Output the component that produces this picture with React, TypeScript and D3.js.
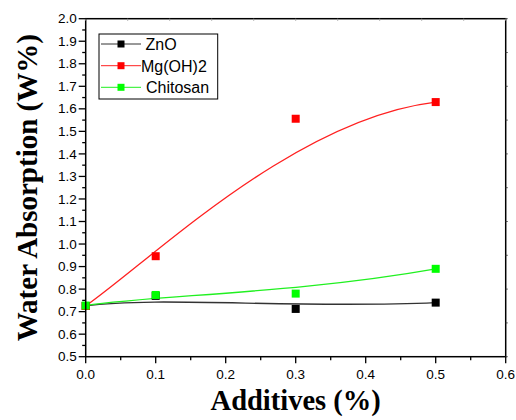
import React from "react";
import * as d3 from "d3";

// additive content (%)
const additives = [0, 0.1, 0.3, 0.5];
// water absorption (W%)
const znoValues = [0.725, 0.77, 0.712, 0.74];
const mgValues = [0.725, 0.946, 1.556, 1.63];
const chitosanValues = [0.727, 0.774, 0.78, 0.89];

const seriesNames = ["ZnO", "Mg(OH)2", "Chitosan"];
const seriesColors = ["#000000", "#ff0000", "#00ff00"];
const lineColors = ["#333333", "#ff2020", "#20f020"];

const xTicks = [0, 0.1, 0.2, 0.3, 0.4, 0.5, 0.6];
const yTicks = [0.5, 0.6, 0.7, 0.8, 0.9, 1.0, 1.1, 1.2, 1.3, 1.4, 1.5, 1.6, 1.7, 1.8, 1.9, 2.0];

const W = 516;
const H = 420;
const margin = { top: 18.7, right: 10.3, bottom: 63.3, left: 85.7 };

export default function App() {
  const x = d3.scaleLinear().domain([0, 0.6]).range([margin.left, W - margin.right]);
  const y = d3.scaleLinear().domain([0.5, 2.0]).range([H - margin.bottom, margin.top]);

  const allValues = [znoValues, mgValues, chitosanValues];

  // origin style b-spline: one cubic bezier with the 4 points as control points
  const splinePath = (vals: number[]) => {
    const p = d3.path();
    p.moveTo(x(additives[0]), y(vals[0]));
    p.bezierCurveTo(
      x(additives[1]), y(vals[1]),
      x(additives[2]), y(vals[2]),
      x(additives[3]), y(vals[3])
    );
    return p.toString();
  };

  const x0 = x.range()[0], x1 = x.range()[1];
  const y0 = y.range()[0], y1 = y.range()[1];

  const xMinor = d3.range(0, 0.6001, 0.05);
  const yMinor = d3.range(0.5, 2.0001, 0.05);
  const topTicks = d3.range(0, 11).map((i) => (i * 0.6) / 10);
  const rightTicks = d3.range(0, 11).map((i) => 0.5 + (i * 1.5) / 10);

  const tickFont = "Arial, 'Liberation Sans', sans-serif";
  const titleFont = "'Times New Roman', 'Liberation Serif', serif";
  const sq = 8;

  const legend = { x: 99, y: 34, w: 118.7, h: 65 };
  const rowY = [44, 65.7, 87.3];
  const textX = [145.5, 141, 146];

  return (
    <svg width={W} height={H} style={{ position: "absolute", left: 0, top: 0, background: "#fff" }}>
      <rect x={0} y={0} width={W} height={H} fill="#fff" />

      {/* fit curves */}
      {allValues.map((vals, i) => (
        <path key={"c" + i} d={splinePath(vals)} fill="none" stroke={lineColors[i]} strokeWidth={1.3} />
      ))}

      {/* points */}
      {allValues.map((vals, i) =>
        vals.map((v, j) => (
          <rect
            key={"p" + i + "-" + j}
            x={x(additives[j]) - sq / 2}
            y={y(v) - sq / 2}
            width={sq}
            height={sq}
            fill={seriesColors[i]}
          />
        ))
      )}

      {/* frame */}
      <rect x={x0} y={y1} width={x1 - x0} height={y0 - y1} fill="none" stroke="#000" strokeWidth={1.5} />

      {/* top & right small ticks */}
      {topTicks.map((t, i) => (
        <line key={"tt" + i} x1={x(t)} x2={x(t)} y1={y1} y2={y1 + 2} stroke="#999" strokeWidth={1} />
      ))}
      {rightTicks.map((t, i) => (
        <line key={"rt" + i} x1={x1} x2={x1 + 2} y1={y(t)} y2={y(t)} stroke="#444" strokeWidth={1} />
      ))}

      {/* bottom axis */}
      {xMinor.map((t, i) => (
        <line key={"xm" + i} x1={x(t)} x2={x(t)} y1={y0} y2={y0 + (i % 2 === 0 ? 6.5 : 3.5)} stroke="#000" strokeWidth={1.3} />
      ))}
      {xTicks.map((t) => (
        <text key={"xl" + t} x={x(t)} y={y0 + 22} textAnchor="middle" fontFamily={tickFont} fontSize={13.5} fill="#000">
          {t.toFixed(1)}
        </text>
      ))}

      {/* left axis */}
      {yMinor.map((t, i) => (
        <line key={"ym" + i} x1={x0} x2={x0 - (i % 2 === 0 ? 7 : 3.5)} y1={y(t)} y2={y(t)} stroke="#000" strokeWidth={1.3} />
      ))}
      {yTicks.map((t) => (
        <text key={"yl" + t} x={x0 - 9} y={y(t) + 4.6} textAnchor="end" fontFamily={tickFont} fontSize={13.5} fill="#000">
          {t.toFixed(1)}
        </text>
      ))}

      {/* axis titles */}
      <text x={(x0 + x1) / 2} y={410} textAnchor="middle" fontFamily={titleFont} fontWeight="bold" fontSize={28.5} fill="#000">
        Additives (%)
      </text>
      <text
        transform={`translate(37, ${(y0 + y1) / 2}) rotate(-90)`}
        textAnchor="middle"
        fontFamily={titleFont}
        fontWeight="bold"
        fontSize={29}
        fill="#000"
      >
        Water Absorption (W%)
      </text>

      {/* legend */}
      <rect x={legend.x} y={legend.y} width={legend.w} height={legend.h} fill="#fff" stroke="#000" strokeWidth={1} />
      {seriesNames.map((name, i) => (
        <g key={"lg" + i}>
          <line x1={101} x2={141} y1={rowY[i]} y2={rowY[i]} stroke={lineColors[i]} strokeWidth={1} />
          <rect x={121 - 3.5} y={rowY[i] - 3.5} width={7} height={7} fill={seriesColors[i]} />
          <text x={textX[i]} y={rowY[i] + 6} fontFamily={tickFont} fontSize={16} fill="#000">
            {name}
          </text>
        </g>
      ))}
    </svg>
  );
}
